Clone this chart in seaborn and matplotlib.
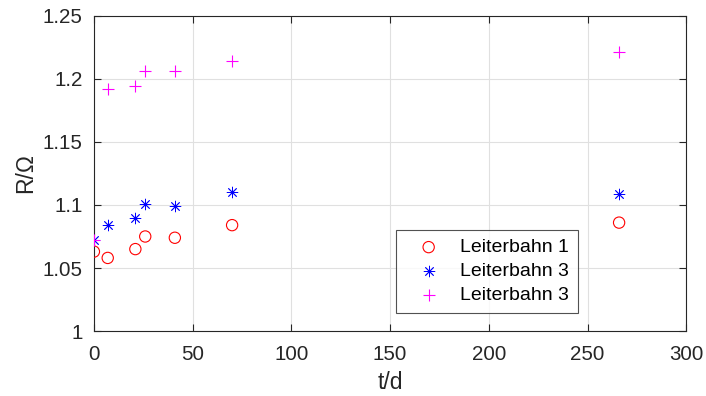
import matplotlib
matplotlib.use("Agg")
import matplotlib.pyplot as plt
import seaborn as sns
import pandas as pd

# Measurement days and resistance values per conductor track
t_days = [0, 7, 21, 26, 41, 70, 266]
r_bahn1 = [1.063, 1.058, 1.065, 1.075, 1.074, 1.084, 1.086]
r_bahn3a = [1.072, 1.084, 1.090, 1.101, 1.099, 1.110, 1.109]
r_bahn3b = [1.072, 1.192, 1.194, 1.206, 1.206, 1.214, 1.221]
series_labels = ["Leiterbahn 1", "Leiterbahn 3", "Leiterbahn 3"]

x_ticks = [0, 50, 100, 150, 200, 250, 300]
y_ticks = [1.0, 1.05, 1.1, 1.15, 1.2, 1.25]
y_tick_labels = ["1", "1.05", "1.1", "1.15", "1.2", "1.25"]

sns.set_theme(style="white")
plt.rcParams["font.family"] = ["Liberation Sans", "DejaVu Sans"]
axis_gray = (0.15, 0.15, 0.15)

fig = plt.figure(figsize=(7.06, 3.96), dpi=100)
ax = fig.add_axes([0.133, 0.164, 0.839, 0.796])

df1 = pd.DataFrame({"t": t_days, "R": r_bahn1})
df2 = pd.DataFrame({"t": t_days, "R": r_bahn3a})
df3 = pd.DataFrame({"t": t_days, "R": r_bahn3b})

sns.scatterplot(data=df1, x="t", y="R", ax=ax, marker="o", s=66,
                facecolor="none", edgecolor=(1, 0, 0), linewidth=0.8,
                label=series_labels[0], zorder=3)
sns.scatterplot(data=df2, x="t", y="R", ax=ax, marker=(8, 2, 0), s=60,
                color=(0, 0, 1), linewidth=0.6,
                label=series_labels[1], zorder=3)
sns.scatterplot(data=df3, x="t", y="R", ax=ax, marker="+", s=80,
                color=(1, 0, 1), linewidth=0.8,
                label=series_labels[2], zorder=3)

ax.set_xlim(0, 300)
ax.set_ylim(1.0, 1.25)
ax.set_xticks(x_ticks)
ax.set_yticks(y_ticks)
ax.set_yticklabels(y_tick_labels)

ax.grid(True, color=(0.88, 0.88, 0.88), linewidth=0.8)
ax.set_axisbelow(True)
for sp in ax.spines.values():
    sp.set_color(axis_gray)
    sp.set_linewidth(0.8)
    sp.set_visible(True)

ax.tick_params(direction="in", length=5, width=0.8, color=axis_gray,
               labelcolor=axis_gray, labelsize=14.8, top=True, right=True,
               bottom=True, left=True)
ax.tick_params(axis="x", pad=10)
ax.tick_params(axis="y", pad=8)

ax.set_xlabel("t/d", fontsize=16.5, color=axis_gray, labelpad=5)
ax.set_ylabel("R/Ω", fontsize=16.5, color=axis_gray, labelpad=4)

leg = ax.legend(loc="upper left", bbox_to_anchor=(0.51, 0.321),
                borderaxespad=0, fontsize=14, frameon=True, fancybox=False,
                handletextpad=0.38, handlelength=2.46, borderpad=0.45,
                labelspacing=0.32)
leg.get_frame().set_edgecolor(axis_gray)
leg.get_frame().set_linewidth(0.8)
for txt in leg.get_texts():
    txt.set_color("black")

fig.savefig("out.png", dpi=100)
